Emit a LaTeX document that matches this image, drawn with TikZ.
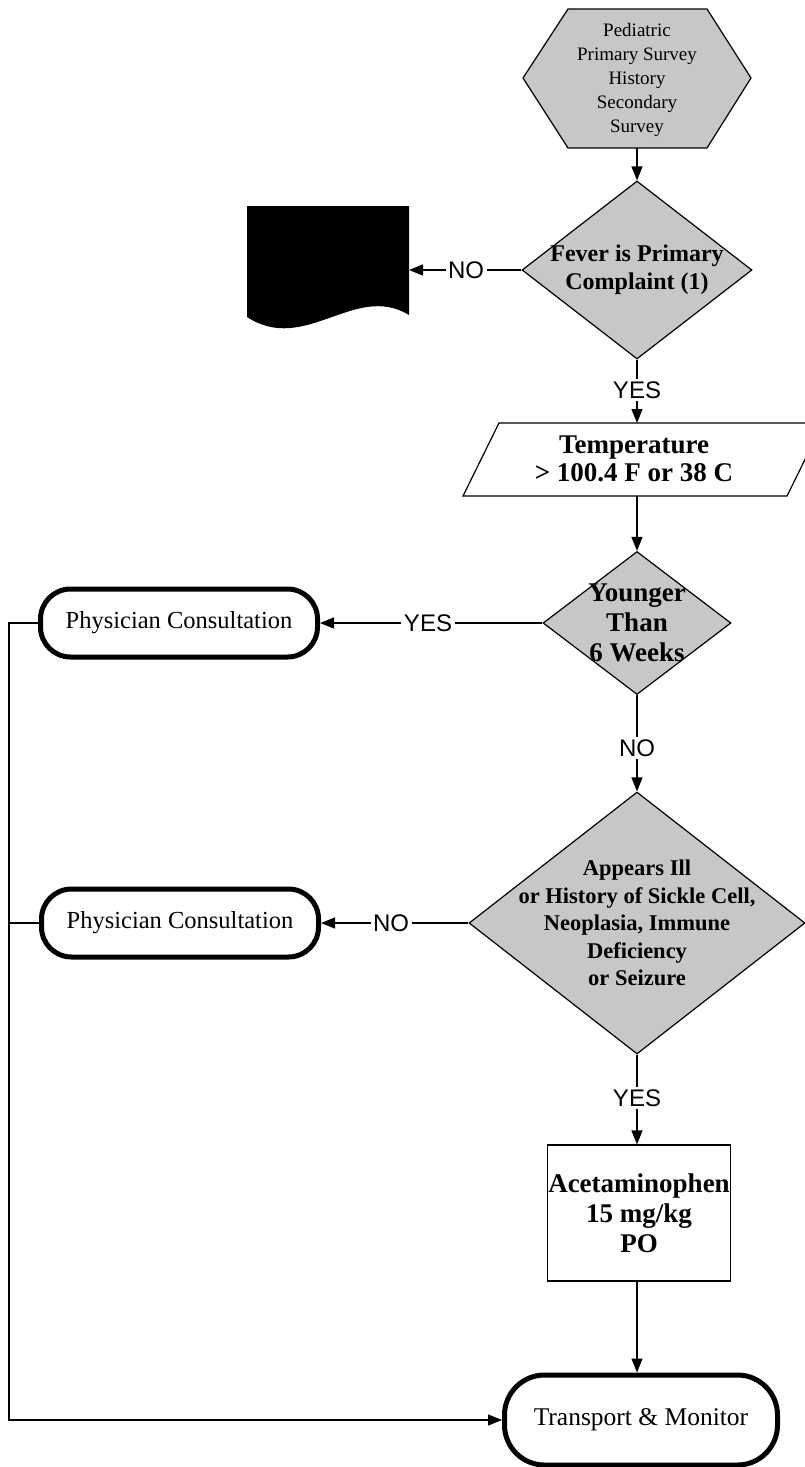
\documentclass[tikz,border=0pt]{standalone}
\usepackage{fontspec}
\setmainfont{Liberation Serif}
\newfontfamily\answerfont{Liberation Sans}
\usetikzlibrary{shapes.geometric,arrows.meta}
\newcommand\setsize[2]{\fontsize{#1}{#2}\selectfont}

\begin{document}
\begin{tikzpicture}[x=1pt,y=-1pt,
  conn/.style={line width=1.3pt},
  arr/.style={conn,-{Triangle[length=14pt,width=11pt]}},
  shaded/.style={fill=black!22,draw=black,line width=1.2pt},
  decision/.style={shaded,diamond,inner sep=0pt},
  dtext/.style={align=center,inner sep=0pt,font={\bfseries\setsize{22}{27}}},
  terminal/.style={draw=black,line width=5pt,rounded corners=30pt,fill=white,
    minimum width=277pt,minimum height=68pt,inner sep=0pt,font={\setsize{24.5}{28}}},
  answer/.style={fill=white,inner sep=2.5pt,font={\answerfont\setsize{24}{26}}},
]
\useasboundingbox (0,0) rectangle (804,1467);

% start: hexagon
\path[shaded] (523,78) -- (568,9) -- (707,9) -- (751,78) -- (707,148) -- (568,148) -- cycle;
\node[align=center,inner sep=0pt,font={\setsize{19}{24}}] (start) at (637,80)
  {Pediatric\\Primary Survey\\History\\Secondary\\Survey};
\coordinate (startS) at (637,148);

% first decision
\node[decision,minimum width=230pt,minimum height=178pt] (fever) at (637,270) {};
\node[dtext,font={\bfseries\setsize{24}{28}}] (feverT) at (fever.center) {Fever is Primary\\Complaint (1)};

% document symbol
\path[fill=black] (247,206) -- (409,206) -- (409,315)
  .. controls (355,282) and (305,355) .. (247,317) -- cycle;
\coordinate (docE) at (409,270);

% input: parallelogram
\path[draw=black,line width=1.2pt,fill=white] (463,496) -- (499,423) -- (823,423) -- (787,496) -- cycle;
\node[align=center,inner sep=0pt,font={\bfseries\setsize{27}{28}}] (temp) at (634,459)
  {Temperature\\> 100.4 F or 38 C};
\coordinate (tempN) at (637,423);
\coordinate (tempS) at (637,496);

% age decision
\node[decision,minimum width=188pt,minimum height=143pt] (young) at (637,623) {};
\node[dtext,font={\bfseries\setsize{27}{30}}] (youngT) at (young.center) {Younger\\Than\\6 Weeks};

% risk decision
\node[decision,minimum width=336pt,minimum height=262pt] (ill) at (637,923) {};
\node[dtext,font={\bfseries\setsize{22.5}{27.5}}] (illT) at (ill.center)
  {Appears Ill\\or History of Sickle Cell,\\Neoplasia, Immune\\Deficiency\\or Seizure};

% terminals
\node[terminal] (pc1) at (179,623) {Physician Consultation};
\node[terminal] (pc2) at (180,923) {Physician Consultation};

% treatment
\node[draw,line width=1.2pt,minimum width=183pt,minimum height=136pt,align=center,
  inner sep=0pt,font={\bfseries\setsize{27}{30}}] (acet) at (639,1213)
  {Acetaminophen\\15 mg/kg\\PO};

\node[terminal,minimum width=273pt,minimum height=90pt,rounded corners=40pt,
  font={\setsize{25.5}{28}}] (tm) at (641,1420) {Transport \& Monitor};

% connectors
\draw[arr] (startS) -- (fever.north);
\draw[arr] (fever.west) -- (docE);
\draw[arr] (fever.south) -- (tempN);
\draw[arr] (tempS) -- (young.north);
\draw[arr] (young.west) -- (pc1.east);
\draw[arr] (young.south) -- (ill.north);
\draw[arr] (ill.west) -- (pc2.east);
\draw[arr] (ill.south) -- (ill.south |- acet.north);
\draw[arr] (ill.south |- acet.south) -- (ill.south |- tm.north);
\coordinate (loopT) at (9,623);
\coordinate (loopB) at (9,1420);
\draw[arr] (pc1.west) -- (loopT) -- (loopB) -- (tm.west);
\draw[conn] (pc2.west) -- (pc2.west -| loopT);

% answers on the connectors
\node[answer] (noA) at (466,270) {NO};
\node[answer] (yesA) at (637,390) {YES};
\node[answer] (yesB) at (428,623) {YES};
\node[answer] (noB) at (637,748) {NO};
\node[answer] (noC) at (391,923) {NO};
\node[answer] (yesC) at (637,1098) {YES};
\end{tikzpicture}
\end{document}
